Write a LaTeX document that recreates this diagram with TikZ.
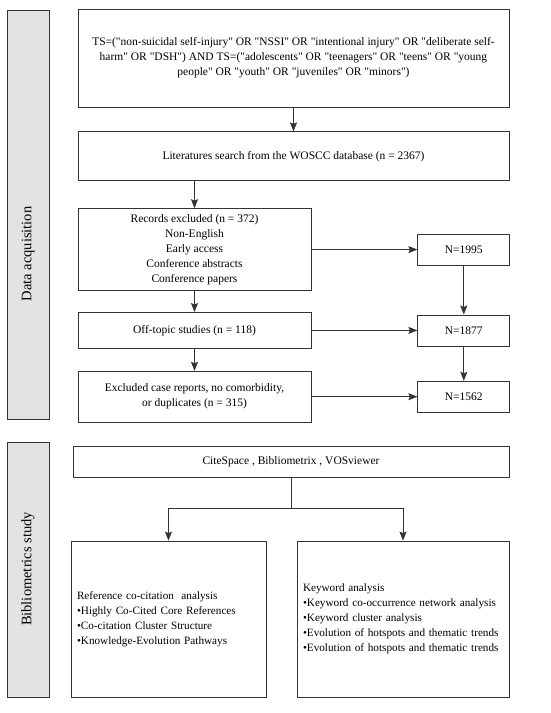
\documentclass[tikz,border=0pt]{standalone}
\usepackage{fontspec}
\setmainfont{Liberation Serif}[Ligatures=TeXOff]
\usetikzlibrary{arrows.meta,positioning,calc}

\begin{document}
\begin{tikzpicture}[x=1pt,y=-1pt,->,>={Stealth[length=9pt,width=7pt,inset=1.5pt]},
        line width=0.8pt,draw=black!80,
        box/.style={draw=black!80,fill=white,align=center,inner sep=4pt,
          font=\fontsize{11.5}{15}\selectfont},
        listbox/.style={box,align=left,inner xsep=6pt,font=\fontsize{11.2}{15}\selectfont},
        stage/.style={draw=black!80,fill=black!11},
        stagetext/.style={rotate=90,font=\fontsize{14.5}{17}\selectfont}]

  \useasboundingbox (0,0) rectangle (550,713);

  % side bars
  \node[stage,minimum width=42pt,minimum height=409pt] (acq) at (28,214.5) {};
  \node[stagetext] (acqtext) at (28,254) {Data acquisition};
  \node[stage,minimum width=42pt,minimum height=255pt] (bib) at (28,569.5) {};
  \node[stagetext] (bibtext) at (28,569) {Bibliometrics study};

  % data acquisition
  \node[box,minimum width=431pt,minimum height=98pt] (query) at (293.5,58)
    {TS=("non-suicidal self-injury" OR "NSSI" OR "intentional injury" OR "deliberate self-\\
     harm" OR "DSH") AND TS=("adolescents" OR "teenagers" OR "teens" OR "young\\
     people" OR "youth" OR "juveniles" OR "minors")};
  \node[box,minimum width=431pt,minimum height=49pt] (search) [below=24pt of query]
    {Literatures search from the WOSCC database (n = 2367)};
  \node[box,minimum width=233pt,minimum height=82pt] (records)
    [below=27pt of search.south west,anchor=north west]
    {Records excluded (n = 372)\\Non-English\\Early access\\Conference abstracts\\Conference papers};
  \node[box,minimum width=233pt,minimum height=36pt] (offtopic) [below=21pt of records]
    {Off-topic studies (n = 118)};
  \node[box,minimum width=233pt,minimum height=51pt] (excluded) [below=22pt of offtopic]
    {Excluded case reports, no comorbidity,\\or duplicates (n = 315)};
  \node[box,minimum width=92pt,minimum height=31pt] (n1995) [right=106pt of records] {N=1995};
  \node[box,minimum width=92pt,minimum height=31pt] (n1877) [right=106pt of offtopic] {N=1877};
  \node[box,minimum width=92pt,minimum height=31pt] (n1562) [right=106pt of excluded] {N=1562};

  % bibliometrics study
  \node[box,minimum width=436pt,minimum height=31pt] (tools) at (291,461.5)
    {CiteSpace , Bibliometrix , VOSviewer};
  \node[listbox,text width=183pt,minimum height=156pt] (ref) at (168.5,619)
    {Reference co-citation\ \ analysis\\
     •Highly Co-Cited Core References\\
     •Co-citation Cluster Structure\\
     •Knowledge-Evolution Pathways};
  \node[listbox,text width=200pt,minimum height=156pt] (kw) at (403,619)
    {Keyword analysis\\
     •Keyword co-occurrence network analysis\\
     •Keyword cluster analysis\\
     •Evolution of hotspots and thematic trends\\
     •Evolution of hotspots and thematic trends};

  \path (query) edge (search)
        (search.south -| records) edge (records)
        (records) edge (offtopic)
        (offtopic) edge (excluded)
        (records) edge (n1995)
        (offtopic) edge (n1877)
        (excluded) edge (n1562)
        (n1995) edge (n1877)
        (n1877) edge (n1562);

  \coordinate (split) at ($(tools.south)+(0,31)$);
  \draw[-] (tools) -- (split);
  \draw (split) -| (ref);
  \draw (split) -| (kw);

\end{tikzpicture}
\end{document}
